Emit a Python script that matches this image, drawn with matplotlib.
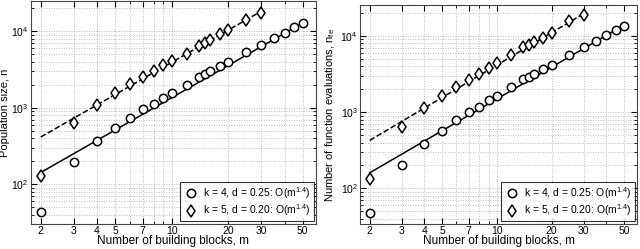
import matplotlib
matplotlib.use("Agg")
import matplotlib.pyplot as plt
from matplotlib.ticker import FixedLocator, NullFormatter, LogLocator

plt.rcParams["font.family"] = ["Liberation Sans", "DejaVu Sans"]
plt.rcParams["mathtext.fontset"] = "custom"
plt.rcParams["mathtext.rm"] = "Liberation Sans"
plt.rcParams["mathtext.it"] = "Liberation Sans"

# building blocks
m_k4 = [2, 3, 4, 5, 6, 7, 8, 9, 10, 12, 14, 15, 16, 18, 20, 25, 30, 35, 40, 45, 50]
m_k5 = [2, 3, 4, 5, 6, 7, 8, 9, 10, 12, 14, 15, 16, 18, 20, 25, 30]

# population size
pop_k4 = [43, 195, 367, 548, 741, 951, 1116, 1350, 1570, 2015, 2510, 2800,
          3000, 3490, 3980, 5320, 6700, 8110, 9510, 11300, 12800]
pop_k5 = [126, 625, 1085, 1570, 2055, 2535, 3005, 3640, 4140, 5120, 6500,
          7050, 7640, 9230, 10500, 14200, 17300]

# function evaluations
nfe_k4 = [48, 204, 385, 574, 796, 1000, 1183, 1443, 1643, 2150, 2700, 2890,
          3130, 3710, 4220, 5620, 7070, 8610, 10300, 11960, 13700]
nfe_k5 = [133, 634, 1150, 1643, 2150, 2670, 3190, 3820, 4430, 5620, 7070,
          7570, 8360, 9510, 11000, 15600, 19000]

# O(m^1.4) fit line end points
fit_m_k4 = [2, 50]
fit_m_k5 = [2, 30]
pop_fit_k4 = [142, 12900]
pop_fit_k5 = [414, 18300]
nfe_fit_k4 = [160, 13900]
nfe_fit_k5 = [426, 19600]

xticks = [2, 3, 4, 5, 7, 10, 20, 30, 50]
xminor = [6, 8, 9, 40]
labels = ["k = 4, d = 0.25: O(m$^{1.4}$)", "k = 5, d = 0.20: O(m$^{1.4}$)"]

fig = plt.figure(figsize=(6.4, 2.49), dpi=100)
ax1 = fig.add_axes([0.048, 0.10, 0.446, 0.896])
ax2 = fig.add_axes([0.5625, 0.10, 0.433, 0.88])

panels = [
    (ax1, pop_k4, pop_k5, pop_fit_k4, pop_fit_k5, "Population size, n",
     (30, 25000), -0.072),
    (ax2, nfe_k4, nfe_k5, nfe_fit_k4, nfe_fit_k5,
     "Number of function evaluations, n$_{fe}$", (34, 25500), -0.082),
]

for ax, y4, y5, f4, f5, ylab, ylim, ylab_x in panels:
    ax.plot(fit_m_k4, f4, "k-", lw=1.1)
    ax.plot(fit_m_k5, f5, "k--", lw=1.1)
    h1, = ax.plot(m_k4, y4, "o", mfc="white", mec="black", ms=6, mew=1.1,
                  linestyle="none")
    h2, = ax.plot(m_k5, y5, "d", mfc="white", mec="black", ms=6.5, mew=1.1,
                  linestyle="none")
    ax.set_xscale("log")
    ax.set_yscale("log")
    ax.set_xlim(1.77, 59)
    ax.set_ylim(*ylim)
    ax.xaxis.set_major_locator(FixedLocator(xticks))
    ax.xaxis.set_minor_locator(FixedLocator(xminor))
    ax.set_xticklabels([str(t) for t in xticks])
    ax.xaxis.set_minor_formatter(NullFormatter())
    ax.yaxis.set_major_locator(LogLocator(base=10))
    ax.yaxis.set_minor_locator(LogLocator(base=10, subs=range(2, 10)))
    ax.yaxis.set_minor_formatter(NullFormatter())
    ax.grid(True, which="both", color="#a8a8a8", linestyle=(0, (1, 2)), lw=0.6)
    ax.tick_params(which="both", direction="in", top=True, right=True,
                   labelsize=7.5, pad=1.5)
    ax.tick_params(which="major", length=4)
    ax.tick_params(which="minor", length=2)
    for s in ax.spines.values():
        s.set_color("#444444")
        s.set_linewidth(0.8)
    ax.set_xlabel("Number of building blocks, m", fontsize=8.5, labelpad=-1)
    ax.set_ylabel(ylab, fontsize=8)
    ax.yaxis.set_label_coords(ylab_x, 0.5)
    leg = ax.legend([h1, h2], labels, loc="lower right", fontsize=7.5,
                    frameon=True, fancybox=False, handletextpad=0.4,
                    borderpad=0.3, labelspacing=0.15, borderaxespad=0.25,
                    handlelength=1.5)
    leg.get_frame().set_edgecolor("black")
    leg.get_frame().set_linewidth(0.8)

fig.savefig("out.png", dpi=100)
